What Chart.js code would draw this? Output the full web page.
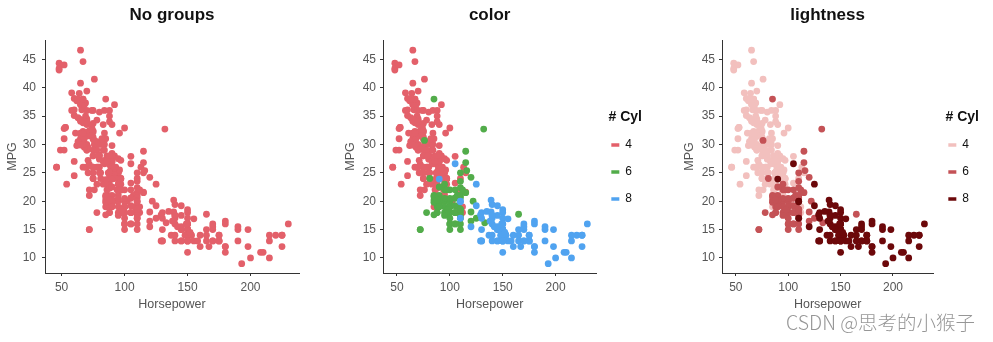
<!DOCTYPE html>
<html><head><meta charset="utf-8">
<script src="https://cdn.jsdelivr.net/npm/chart.js@4.4.1/dist/chart.umd.min.js"></script>
<style>
html,body{margin:0;padding:0;background:#fff;width:993px;height:342px;overflow:hidden;}
canvas{position:absolute;top:0;}
#wm{position:absolute;left:786px;top:307px;font:19.5px "Noto Sans CJK SC",sans-serif;font-weight:300;color:#969696;white-space:nowrap;}
</style></head><body>
<canvas id="c1" width="330" height="342" style="left:0"></canvas>
<canvas id="c2" width="330" height="342" style="left:330px"></canvas>
<canvas id="c3" width="333" height="342" style="left:660px"></canvas>
<div id="wm">CSDN @思考的小猴子</div>
<script>
// ---- data (carbig: Horsepower vs MPG, grouped by # cylinders) ----
const hp4 = [95,88,46,87,90,95,113,88,90,95,72,86,90,70,76,65,69,60,70,95,80,54,90,86,112,76,87,69,86,92,97,80,88,46,88,72,94,85,90,49,75,91,112,110,67,80,65,75,83,67,78,52,61,75,75,75,97,93,67,75,83,78,96,71,97,70,95,88,98,115,53,86,81,92,79,83,52,60,70,53,71,70,75,72,102,88,68,80,58,96,70,78,88,75,89,63,83,67,78,110,48,66,52,70,60,88,68,95,97,75,95,105,85,97,115,71,68,88,71,65,80,80,71,70,70,65,69,90,90,76,60,70,65,90,88,90,78,90,75,92,75,65,105,65,48,48,67,67,67,62,88,72,84,84,92,84,58,64,60,67,65,62,68,63,65,65,74,75,75,100,74,80,88,88,88,85,84,90,92,74,68,68,63,70,88,75,70,67,67,67,92,96,84,90,86,52,84,79,82];
const mpg4 = [24,27,26,25,24,25,26,27,28,25,22,23,28,30,30,31,35,27,26,24,25,23,20,21,18,22,21,26,22,28,23,28,27,26,20,21,22,19,26,29,24,20,19,24,31,26,32,25,29,26,26,31,32,28,24,26,24,26,31,29,23,23,24,25,24,29,23,23,22,25,33,28,25,25,26,27,29,24.5,29,33,29.5,32,28,26.5,20,19,31.5,30,36,25.5,33.5,29,24.5,26,25.5,30.5,33.5,30,30.5,21.5,43.1,36.1,32.8,39.4,36.1,25.1,30,27.5,27.2,30.9,21.1,23.2,23.8,23.9,21.6,31.5,29.5,22.3,31.9,34.1,35.7,27.4,27.2,34.2,34.5,31.8,37.3,28.4,33.5,41.5,38.1,32.1,37.2,28,26.4,24.3,34.3,29.8,31.3,37,32.2,46.6,27.9,40.8,44.3,43.4,30,44.6,33.8,29.8,35,32.4,27.2,26.6,25.8,30,39.1,39,35.1,32.3,37,37.7,34.1,34.7,34.4,29.9,33,33.7,32.4,32.9,31.6,28.1,28,27,34,31,29,27,24,36,37,31,38,36,36,36,34,38,32,38,26,32,36,27,27,44,32,28,31];
const hp6 = [95,97,85,90,100,105,100,88,100,110,100,88,105,100,100,88,95,100,107,122,95,100,100,100,110,105,95,105,72,72,110,105,110,95,110,100,97,90,100,105,81,90,100,78,110,95,108,120,110,105,100,98,97,105,95,85,100,90,105,85,110,120,165,125,133,115,85,90,110,115,115,90,132,110,76,116,120,110,88,85,110,85,112];
const mpg6 = [22,18,21,21,19,16,17,19,18,18,19,18,18,16,18,18,23,18,21,20,20,19,15,16,16,18,19,18,15,15,17,16,15,18,21,20,18,19,22,22,24,22.5,20,18,18.5,17.5,19,16.5,17.5,20.5,19,18.5,22,19.2,20.5,20.2,20.5,19.4,20.6,20.8,18.6,18.1,17.7,17,16.2,21.5,19.8,20.2,20.6,28.8,26.8,19.1,32.7,23.5,30.7,25.4,24.2,22.4,20.2,17.6,25,38,22];
const hp8 = [130,165,150,150,140,198,220,215,225,190,170,160,150,225,215,200,210,193,165,175,153,150,180,170,175,165,175,150,153,150,208,155,160,190,150,130,140,150,175,150,145,137,150,198,150,158,150,215,225,175,150,167,170,180,145,230,150,180,140,150,150,140,150,170,145,150,148,110,129,140,150,120,152,150,180,145,130,150,145,110,145,130,180,170,190,149,110,140,139,145,139,140,130,129,138,135,155,142,125,150,125,90,105];
const mpg8 = [18,15,18,16,17,15,14,14,14,15,15,14,15,14,10,10,11,9,14,14,14,14,12,13,13,13,14,15,14,17,11,13,12,13,15,13,13,14,13,14,13,14,15,12,13,13,14,13,12,13,11,12,13,12,15,16,15,11,16,13,14,14,14,16,15,16,14,20,13,17.5,16,15.5,14.5,13,16.5,13,13,13,17.5,17,15.5,15,16,15.5,15.5,16,19.9,19.4,20.2,19.2,18.1,17.5,17,17.6,16.5,18.2,16.9,15.5,19.2,18.5,23,23.9,26.6];

const groupLabels = ['4','6','8'];
const panelTitles = ['No groups','color','lightness'];
const legendTitle = '# Cyl';
const xTickValues = [50,100,150,200];
const yTickValues = [10,15,20,25,30,35,40,45];
const xLabel = 'Horsepower';
const yLabel = 'MPG';

// ---- styling ----
const FONT = '"Liberation Sans", Arial, Helvetica, sans-serif';
const X_MIN = 36.8, X_MAX = 238.5, Y_MIN = 7.35, Y_MAX = 48.4;
const COLOR_SINGLE = 'rgb(227,96,106)';
const COLORS_HUE = ['rgb(227,96,106)','rgb(82,172,74)','rgb(80,163,240)'];
const COLORS_LIGHT = ['rgb(242,192,190)','rgb(196,82,86)','rgb(108,8,10)'];

function pts(xs, ys){ return xs.map((x,i)=>({x:x, y:ys[i]})); }
const groups = [pts(hp4,mpg4), pts(hp6,mpg6), pts(hp8,mpg8)];

function ds(label, data, color, order){
  return {label, data, backgroundColor: color, borderColor: color, borderWidth: 0,
          pointRadius: 3.4, pointHoverRadius: 3.4, pointBorderWidth: 0, order};
}

function makePanel(id, title, datasets, legend, g){
  new Chart(document.getElementById(id), {
    type: 'scatter',
    data: {datasets},
    options: {
      responsive: false, animation: false, devicePixelRatio: 1, events: [],
      layout: {padding: {left: 0, right: g.padRight, top: 0, bottom: 0}},
      plugins: {
        tooltip: {enabled: false},
        title: {display: true, text: title, fullSize: false, color: '#111',
                font: {family: FONT, size: 17, weight: 'bold'}, padding: {top: 4.8, bottom: 14.8}},
        legend: legend ? {
          display: true, position: 'right', align: 'start', fullSize: false,
          title: {display: true, text: legendTitle, position: 'end', color: '#111',
                  font: {family: FONT, size: 14, weight: 'bold', lineHeight: 1}, padding: {top: 70, bottom: 0}},
          labels: {boxWidth: 8, boxHeight: 3.5, padding: 15, color: '#555', font: {family: FONT, size: 12},
            generateLabels: (chart) => chart.data.datasets.map((d,i)=>({
              text: d.label, fillStyle: d.backgroundColor, strokeStyle: d.backgroundColor,
              lineWidth: 0, hidden: false, datasetIndex: i}))}
        } : {display: false}
      },
      scales: {
        x: {
          type: 'linear', min: X_MIN, max: X_MAX,
          afterBuildTicks: (s) => { s.ticks = xTickValues.map(v=>({value: v})); },
          afterFit: (s) => { s.height = 69; },
          grid: {display: true, drawOnChartArea: false, drawTicks: true, tickLength: 3, color: '#333'},
          border: {display: true, color: '#333', width: 1},
          ticks: {padding: 4, color: '#555', font: {family: FONT, size: 12}, maxRotation: 0},
          title: {display: true, text: xLabel, color: '#555', font: {family: FONT, size: 12.5},
                  padding: {top: 0, bottom: 29.5}}
        },
        y: {
          type: 'linear', min: Y_MIN, max: Y_MAX,
          afterBuildTicks: (s) => { s.ticks = yTickValues.map(v=>({value: v})); },
          afterFit: (s) => { s.width = g.yW; },
          grid: {display: true, drawOnChartArea: false, drawTicks: true, tickLength: 3, color: '#333'},
          border: {display: true, color: '#333', width: 1},
          ticks: {padding: g.tickPad, color: '#555', font: {family: FONT, size: 12}},
          title: {display: true, text: yLabel, color: '#555', font: {family: FONT, size: 12.5},
                  padding: {top: g.yTitlePad, bottom: 0}}
        }
      }
    }
  });
}

// Panel 1: no groups (all points one colour)
makePanel('c1', panelTitles[0],
  [ds('all', groups[0].concat(groups[1], groups[2]), COLOR_SINGLE, 0)], false,
  {yW: 45, padRight: 31, tickPad: 6, yTitlePad: 5.5});
// Panel 2: colour by cylinders (8 on top)
makePanel('c2', panelTitles[1],
  groupLabels.map((l,i)=>ds(l, groups[i], COLORS_HUE[i], 3-i)), true,
  {yW: 53, padRight: 18, tickPad: 4, yTitlePad: 13});
// Panel 3: lightness by cylinders
makePanel('c3', panelTitles[2],
  groupLabels.map((l,i)=>ds(l, groups[i], COLORS_LIGHT[i], 3-i)), true,
  {yW: 62, padRight: 14, tickPad: 4, yTitlePad: 22});
</script>
</body></html>
